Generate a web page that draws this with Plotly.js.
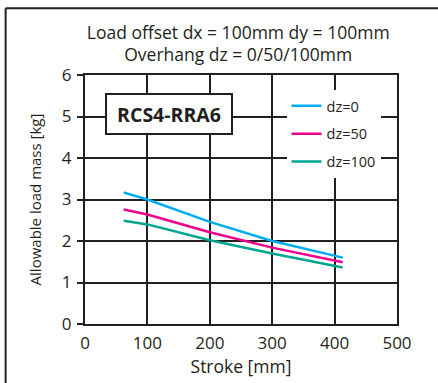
<!DOCTYPE html>
<html>
<head>
<meta charset="utf-8">
<script src="https://cdn.plot.ly/plotly-3.0.1.min.js"></script>
<style>html,body{margin:0;padding:0;background:#fff;}#chart{width:438px;height:383px;}</style>
</head>
<body>
<div id="chart"></div>
<script>
const stroke = [62, 100, 200, 300, 413];
const dz0 = [3.17, 3.00, 2.46, 2.00, 1.60];
const dz50 = [2.76, 2.64, 2.21, 1.84, 1.49];
const dz100 = [2.49, 2.40, 2.02, 1.70, 1.36];
const seriesNames = ['dz=0', 'dz=50', 'dz=100'];
const seriesColors = ['#00aeef', '#ec008c', '#00a68f'];
const xTicks = [0, 100, 200, 300, 400, 500];
const yTicks = [0, 1, 2, 3, 4, 5, 6];
const INK = '#231f20';
const FONT = 'Open Sans, sans-serif';

const values = [dz0, dz50, dz100];
const traces = values.map((v, i) => ({
  x: stroke, y: v, type: 'scatter', mode: 'lines', name: seriesNames[i],
  legendgroup: 'g' + i,
  line: {color: seriesColors[i], width: 2.5}
}));

const layout = {
  width: 438, height: 383,
  margin: {l: 84.5, r: 41, t: 74.5, b: 59},
  paper_bgcolor: '#fff', plot_bgcolor: '#fff',
  font: {family: FONT, color: INK, size: 15},
  title: {text: 'Load offset dx = 100mm dy = 100mm<br>Overhang dz = 0/50/100mm',
          x: 0.491, xref: 'paper', xanchor: 'center', y: 0.899, yref: 'container', yanchor: 'top',
          font: {family: FONT, size: 17.5, color: INK}},
  xaxis: {range: [0, 500], tickvals: xTicks, ticktext: xTicks.map(String), showgrid: true, gridcolor: INK, gridwidth: 2,
          showline: true, linecolor: INK, linewidth: 2, mirror: true, ticks: '', zeroline: false, ticklabelstandoff: 3,
          title: {text: 'Stroke [mm]', standoff: 5, font: {size: 17.5}}, tickfont: {size: 17}},
  yaxis: {range: [0, 6], tickvals: yTicks, ticktext: yTicks.map(String), showgrid: true, gridcolor: INK, gridwidth: 2,
          showline: true, linecolor: INK, linewidth: 2, mirror: true, ticks: 'outside', ticklen: 6, tickwidth: 2, tickcolor: INK,
          ticklabelstandoff: 2,
          zeroline: false, title: {text: 'Allowable load mass [kg]', standoff: 17, font: {size: 15}}, tickfont: {size: 17}},
  legend: {x: 0.646, y: 0.94, xanchor: 'left', yanchor: 'top', bgcolor: '#fff', borderwidth: 0,
           traceorder: 'grouped', tracegroupgap: 6, font: {size: 14.5, color: INK}},
  showlegend: true,
  annotations: [{
    x: 135, y: 5.06, xref: 'x', yref: 'y', text: '<b>RCS4-RRA6</b>', showarrow: false,
    font: {size: 19.5, color: INK, family: FONT}, bordercolor: INK, borderwidth: 2, bgcolor: '#fff',
    width: 122, height: 36
  }],
  shapes: [
    {type: 'line', xref: 'paper', yref: 'paper', x0: -0.2544, x1: -0.2544, y0: -0.3, y1: 1.2685, line: {color: INK, width: 2}},
    {type: 'line', xref: 'paper', yref: 'paper', x0: -0.2544, x1: 1.2, y0: 1.2685, y1: 1.2685, line: {color: INK, width: 2}}
  ]
};

Plotly.newPlot('chart', traces, layout, {displayModeBar: false, staticPlot: true});
</script>
</body>
</html>
